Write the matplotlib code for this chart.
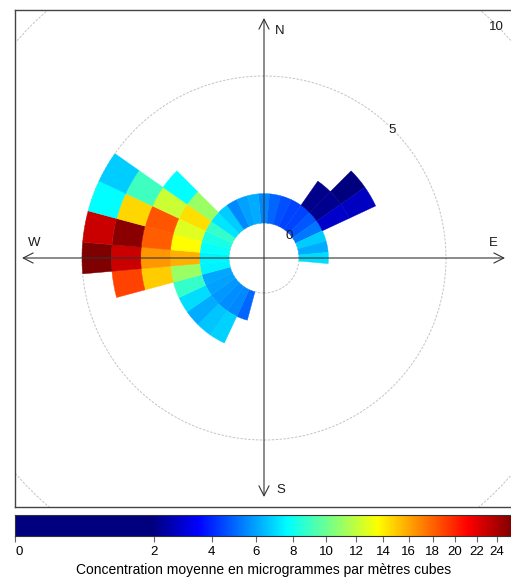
import numpy as np
import matplotlib
matplotlib.use("Agg")
import matplotlib.pyplot as plt
from matplotlib.patches import Wedge, Circle
from matplotlib.colors import LinearSegmentedColormap, PowerNorm

plt.rcParams['font.family'] = ['Liberation Sans', 'DejaVu Sans']

# wind direction sectors (degrees, clockwise from north), 10 degree bins
directions = list(range(0, 360, 10))
N_ = None
# mean concentration per wind-speed bin (index = sector)
ws_0_1 = [5.52, 4.95, 4.61, 4.42, 4.42, 4.69, 5.24, 6.71, 6.11, 7.02,
          N_, N_, N_, N_, N_, N_, N_, N_, N_, N_,
          4.95, 5.52, 5.58, 5.80, 5.91, 6.02, 7.44, 7.52, 7.82, 8.21,
          8.74, 7.19, 6.71, 5.52, 5.91, 6.11]
ws_1_2 = [N_, N_, N_, N_, 2.09, 2.12, 2.81, N_, N_, N_,
          N_, N_, N_, N_, N_, N_, N_, N_, N_, N_,
          N_, 6.83, 6.59, 6.11, 7.02, 8.74, 11.04, 15.71, 13.61, 12.78,
          14.46, 11.04, N_, N_, N_, N_]
ws_2_3 = [N_, N_, N_, N_, N_, 1.50, 2.66, N_, N_, N_,
          N_, N_, N_, N_, N_, N_, N_, N_, N_, N_,
          N_, N_, N_, N_, N_, N_, 14.99, 16.44, 18.15, 18.46,
          12.29, 7.69, N_, N_, N_, N_]
ws_3_4 = [N_] * 26 + [19.02, 22.91, 25.15, 14.64, 9.02] + [N_] * 5
ws_4_5 = [N_] * 27 + [25.61, 22.91, 7.69, 6.71] + [N_] * 5
speed_bins = [ws_0_1, ws_1_2, ws_2_3, ws_3_4, ws_4_5]

cbar_ticks = list(range(0, 25, 2))
cbar_label = "Concentration moyenne en microgrammes par mètres cubes"
vmax = 25.6

# colour scale (sqrt scaled)
stops = [0.0, 0.277] + [0.277 + k * (1 - 0.277) / 8 for k in range(1, 9)]
cols = ["#00007F", "#00007F", "#0000FF", "#007FFF", "#00FFFF", "#7FFF7F",
        "#FFFF00", "#FF7F00", "#FF0000", "#7F0000"]
cmap = LinearSegmentedColormap.from_list("openair", list(zip(stops, cols)), N=512)
norm = PowerNorm(gamma=0.5, vmin=0, vmax=vmax)

W, H = 511, 580
fig = plt.figure(figsize=(W / 100, H / 100), dpi=100)
px = 29.4  # pixels per wind speed unit
off = 35 / px

ax = fig.add_axes([15 / W, 73 / H, 498 / W, 497 / H])
ax.set_xlim(-249 / px, 249 / px)
ax.set_ylim(-249 / px, 248 / px)
ax.set_xticks([]); ax.set_yticks([])
for s in ax.spines.values():
    s.set_color("#444444"); s.set_linewidth(1.0)

# grid circles
for ws in [0, 5, 10]:
    ax.add_patch(Circle((0, 0), off + ws, fill=False, ec="#C4C4C4", lw=0.7,
                        ls=(0, (2.5, 1.5)), zorder=1))

# wedges
for b, vals in enumerate(speed_bins):
    for d, v in zip(directions, vals):
        if v is None:
            continue
        a = 90 - d
        c = cmap(norm(v))
        ax.add_patch(Wedge((0, 0), off + b + 1, a - 5, a + 5, width=1.0,
                           fc=c, ec=c, lw=0.3, zorder=2))

# axes arrows
ap = dict(arrowstyle="<->,head_length=0.55,head_width=0.28", lw=0.8,
          color="#333333", shrinkA=0, shrinkB=0, mutation_scale=13)
ax.annotate("", xy=(241 / px, 0), xytext=(-242 / px, 0), arrowprops=ap, zorder=3)
ax.annotate("", xy=(0, 240 / px), xytext=(0, -239 / px), arrowprops=ap, zorder=3)

fs = 9.5
tc = "#1a1a1a"
ax.text(16 / px, 227 / px, "N", ha="center", va="center", fontsize=fs, color=tc)
ax.text(17 / px, -232 / px, "S", ha="center", va="center", fontsize=fs, color=tc)
ax.text(-230 / px, 15 / px, "W", ha="center", va="center", fontsize=fs, color=tc)
ax.text(229 / px, 15 / px, "E", ha="center", va="center", fontsize=fs, color=tc)
ax.text(25 / px, 22 / px, "0", ha="center", va="center", fontsize=fs, color=tc, zorder=4)
ax.text(128 / px, 128 / px, "5", ha="center", va="center", fontsize=fs, color=tc)
ax.text(232 / px, 231 / px, "10", ha="center", va="center", fontsize=fs, color=tc)

# colour key
cax = fig.add_axes([15 / W, 44 / H, 498 / W, 21 / H])
grad = np.linspace(0, 1, 1024)[None, :]
cax.imshow(grad, aspect="auto", cmap=cmap, extent=[0, 1, 0, 1], vmin=0, vmax=1)
cax.set_xlim(0, 1); cax.set_ylim(0, 1)
cax.set_yticks([])
tpos = [np.sqrt(t / vmax) for t in cbar_ticks]
cax.set_xticks(tpos)
cax.set_xticklabels([str(t) for t in cbar_ticks], fontsize=9.5)
cax.get_xticklabels()[0].set_horizontalalignment("left")
cax.tick_params(axis="x", length=4, width=0.8, color="#666666", pad=3)
for s in cax.spines.values():
    s.set_color("#333333"); s.set_linewidth(0.8)
cax.set_xlabel(cbar_label, fontsize=10, labelpad=4)

fig.savefig("out.png", dpi=100)
